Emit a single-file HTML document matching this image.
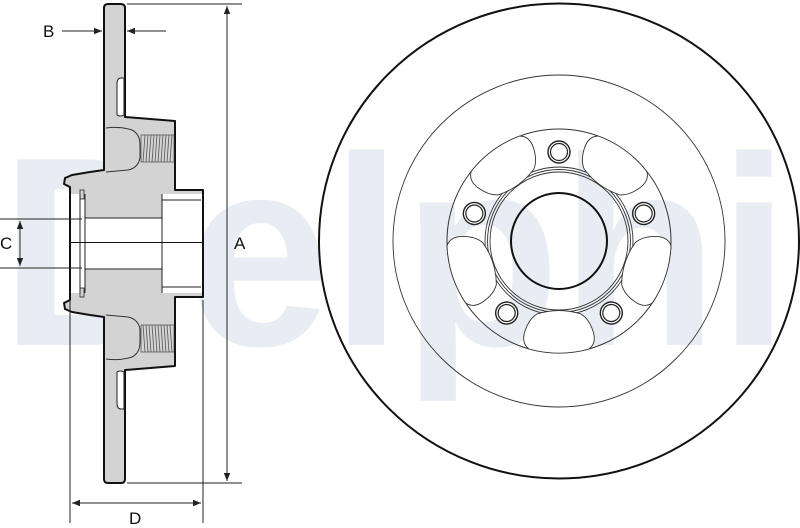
<!DOCTYPE html>
<html><head><meta charset="utf-8"><style>
html,body{margin:0;padding:0;background:#fff;width:800px;height:528px;overflow:hidden}
svg{display:block}
text{font-family:"Liberation Sans",sans-serif}
</style></head><body>
<svg width="800" height="528" viewBox="0 0 800 528" xmlns="http://www.w3.org/2000/svg">
<defs>
<marker id="ah" viewBox="0 0 10 10" refX="10" refY="5" markerWidth="8" markerHeight="8" orient="auto-start-reverse" markerUnits="userSpaceOnUse"><path d="M0,1 L10,5 L0,9 Z" fill="#222"/></marker>
<g id="slot"><path d="M-22,73 Q0,66 22,73 Q30,78 34,90 Q38,102 30,108 A112,112 0 0 1 -30,108 Q-38,102 -34,90 Q-30,78 -22,73 Z" fill="#fff" stroke="#333" stroke-width="0.9"/></g>
<g id="bolt"><circle cx="0" cy="-89" r="11" fill="#fff" stroke="#222" stroke-width="1.4"/><circle cx="0" cy="-89" r="8.5" fill="none" stroke="#222" stroke-width="1.2"/></g>
<g id="half">
<path d="M104,170 L104,8 Q104,4 108,4 L121,4 Q125,4 125,8 L125,117 L175,121 L175,190 L203,190 L203,244 L70,244 L70,187 L64,184 L65,178 L72,175 L90,172 Z" fill="#d3d3d3" stroke="#111" stroke-width="2" stroke-linejoin="round"/>
<rect x="71" y="194" width="131" height="50" fill="#fff"/>
<rect x="85" y="193" width="77" height="25" fill="#d3d3d3"/>
<rect x="80" y="190" width="4" height="9" fill="#d3d3d3" stroke="#222" stroke-width="0.8"/>
<rect x="162" y="200" width="39" height="44" fill="#fff"/>
<path d="M162,194 L162,244 M85,218 L162,218 M80,194 L80,244 M85,194 L85,244 M162,200 L201,200" stroke="#222" stroke-width="1" fill="none"/>
<path d="M70,187 L70,244" stroke="#111" stroke-width="2"/>
<path d="M117,115 L117,84 Q117,78 121,78 L124,78 L124,115 Q120,117 117,115 Z" fill="#fff" stroke="#222" stroke-width="1"/>
<path d="M106,128 Q120,126 132,130 Q140,134 140,145 L140,158 Q138,168 128,170 L106,172" fill="none" stroke="#333" stroke-width="1"/>
<rect x="141" y="135" width="33" height="27" fill="#d3d3d3" stroke="#333" stroke-width="0.6"/>
<path d="M143,162 L145,135 M146,162 L148,135 M149,162 L151,135 M152,162 L154,135 M155,162 L157,135 M158,162 L160,135 M161,162 L163,135 M164,162 L166,135 M167,162 L169,135 M170,162 L172,135" stroke="#555" stroke-width="0.8"/>
</g>
</defs>
<text x="395" y="345" font-size="270" font-weight="bold" fill="#e9edf3" text-anchor="middle" textLength="790" lengthAdjust="spacingAndGlyphs">Delphi</text>

<use href="#half"/>
<use href="#half" transform="translate(0,487) scale(1,-1)"/>

<g stroke="#222" stroke-width="1" fill="none">
<path d="M127,4 L242,4 M127,483 L242,483"/>
<line x1="227" y1="6" x2="227" y2="481" marker-start="url(#ah)" marker-end="url(#ah)"/>
<line x1="62" y1="31" x2="102" y2="31" marker-end="url(#ah)"/>
<line x1="166" y1="31" x2="127" y2="31" marker-end="url(#ah)"/>
<path d="M0,219 L82,219 M0,268 L82,268"/>
<line x1="20" y1="221" x2="20" y2="266" marker-start="url(#ah)" marker-end="url(#ah)"/>
<path d="M70,300 L70,523 M203,300 L203,523"/>
<line x1="72" y1="503" x2="201" y2="503" marker-start="url(#ah)" marker-end="url(#ah)"/>
</g>
<g font-size="17" fill="#111">
<text x="43" y="37">B</text>
<text x="0" y="249">C</text>
<text x="234" y="249">A</text>
<text x="129" y="524">D</text>
</g>

<g transform="translate(559,241)">
<ellipse cx="0" cy="0" rx="240" ry="237.5" fill="none" stroke="#111" stroke-width="2"/>
<circle r="166" fill="none" stroke="#333" stroke-width="0.9"/>
<circle r="112" fill="none" stroke="#333" stroke-width="1"/>
<circle r="74" fill="none" stroke="#333" stroke-width="0.9"/>
<circle r="71.5" fill="none" stroke="#333" stroke-width="0.9"/>
<circle r="69" fill="none" stroke="#333" stroke-width="0.9"/>
<circle r="48" fill="none" stroke="#111" stroke-width="2"/>
<use href="#slot"/>
<use href="#slot" transform="rotate(72)"/>
<use href="#slot" transform="rotate(144)"/>
<use href="#slot" transform="rotate(216)"/>
<use href="#slot" transform="rotate(288)"/>
<use href="#bolt"/>
<use href="#bolt" transform="rotate(72)"/>
<use href="#bolt" transform="rotate(144)"/>
<use href="#bolt" transform="rotate(216)"/>
<use href="#bolt" transform="rotate(288)"/>
</g>
</svg>
</body></html>
